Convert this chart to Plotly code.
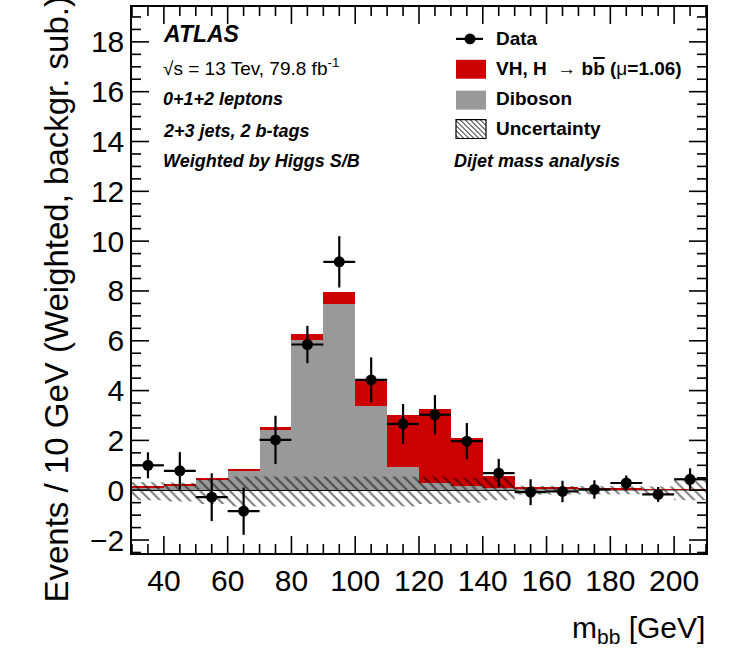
import numpy as np
import plotly.graph_objects as go

# ---------------- data ----------------
mbb_centers = [35, 45, 55, 65, 75, 85, 95, 105, 115, 125, 135, 145, 155, 165, 175, 185, 195, 205]
data_vals = [1.00, 0.78, -0.28, -0.84, 2.02, 5.85, 9.17, 4.43, 2.66, 3.03, 1.97, 0.69, -0.08, -0.05, 0.03, 0.29, -0.17, 0.44]
data_err = [0.52, 0.75, 0.96, 0.95, 0.97, 0.75, 1.03, 0.90, 0.80, 0.79, 0.73, 0.57, 0.52, 0.43, 0.37, 0.30, 0.30, 0.44]
diboson = [0.10, 0.17, 0.43, 0.80, 2.43, 6.05, 7.47, 3.37, 0.93, 0.28, 0.15, 0.10, 0.08, 0.05, 0.03, 0.02, 0.02, 0.02]
vh_signal = [0.03, 0.06, 0.06, 0.07, 0.10, 0.22, 0.49, 1.06, 2.11, 2.99, 1.95, 0.46, 0.05, 0.04, 0.03, 0.03, 0.02, 0.02]
unc_up = [0.33, 0.30, 0.45, 0.55, 0.55, 0.55, 0.55, 0.55, 0.55, 0.55, 0.50, 0.50, 0.18, 0.15, 0.15, 0.15, 0.15, 0.42]
unc_down = [0.40, 0.45, 0.55, 0.65, 0.65, 0.65, 0.65, 0.65, 0.65, 0.55, 0.50, 0.40, 0.18, 0.15, 0.15, 0.15, 0.15, 0.40]
bin_width = 10
x_range = [30, 210]
y_range = [-2.52, 19.4]
x_major, x_minor = 20, 5
y_major, y_minor = 2, 0.5

RED = "#cc0000"
GRAY = "#999999"
FONT = "Liberation Sans"

W, H = 743, 664
L, R, T, B = 132, 706, 5, 553  # plot area in pixels
PW, PH = R - L, B - T


def px(xp):
    return (xp - L) / PW


def py(yp):
    return (B - yp) / PH


fig = go.Figure()

# stacked histograms
fig.add_trace(go.Bar(x=mbb_centers, y=diboson, width=bin_width, marker=dict(color=GRAY, line=dict(width=0)),
                     name="Diboson", showlegend=False))
fig.add_trace(go.Bar(x=mbb_centers, y=vh_signal, width=bin_width, marker=dict(color=RED, line=dict(width=0)),
                     name="VH", showlegend=False))

# uncertainty band (step polygon built from bin edges)
c = np.array(mbb_centers, dtype=float)
lo_e = c - bin_width / 2
hi_e = c + bin_width / 2
xs_up = np.ravel(np.column_stack([lo_e, hi_e]))
ys_up = np.repeat(np.array(unc_up), 2)
xs_dn = xs_up[::-1]
ys_dn = np.repeat(-np.array(unc_down), 2)[::-1]
fig.add_trace(go.Scatter(x=np.concatenate([xs_up, xs_dn, xs_up[:1]]).tolist(),
                         y=np.concatenate([ys_up, ys_dn, ys_up[:1]]).tolist(),
                         mode="lines", line=dict(width=0, color="rgba(0,0,0,0)"), fill="toself",
                         fillcolor="rgba(0,0,0,0)",
                         fillpattern=dict(shape="\\", fgcolor="black", bgcolor="rgba(0,0,0,0)", size=7, solidity=0.3),
                         showlegend=False, hoverinfo="skip"))

# data points
fig.add_trace(go.Scatter(x=mbb_centers, y=data_vals, mode="markers",
                         marker=dict(color="black", size=11),
                         error_y=dict(type="data", array=data_err, color="black", thickness=2.2, width=0),
                         error_x=dict(type="constant", value=bin_width / 2, color="black", thickness=2.2, width=0),
                         showlegend=False))

shapes = []

# ---------------- ROOT-style inside ticks on all four sides (paper coords) ----------------
TICK_MAJ, TICK_MIN = 17, 9
xv = x_range[0]
while xv <= x_range[1] + 1e-9:
    ln = TICK_MAJ if abs(xv % x_major) < 1e-9 else TICK_MIN
    xp = (xv - x_range[0]) / (x_range[1] - x_range[0])
    shapes.append(dict(type="line", xref="paper", yref="paper", x0=xp, x1=xp, y0=0.0, y1=ln / PH,
                       line=dict(width=1.6, color="black"), layer="above"))
    shapes.append(dict(type="line", xref="paper", yref="paper", x0=xp, x1=xp, y0=1.0, y1=1 - ln / PH,
                       line=dict(width=1.6, color="black"), layer="above"))
    xv += x_minor
yv = -2.5
while yv <= y_range[1] + 1e-9:
    ln = TICK_MAJ if abs(yv / y_major - round(yv / y_major)) < 1e-9 else TICK_MIN
    yp = (yv - y_range[0]) / (y_range[1] - y_range[0])
    shapes.append(dict(type="line", xref="paper", yref="paper", x0=0.0, x1=ln / PW, y0=yp, y1=yp,
                       line=dict(width=1.6, color="black"), layer="above"))
    shapes.append(dict(type="line", xref="paper", yref="paper", x0=1.0, x1=1 - ln / PW, y0=yp, y1=yp,
                       line=dict(width=1.6, color="black"), layer="above"))
    yv += y_minor


# ---------------- legend decorations (paper coords) ----------------
def rect(x0, y0, x1, y1, fill, line_w=0):
    shapes.append(dict(type="rect", xref="paper", yref="paper", x0=px(x0), x1=px(x1), y0=py(y1), y1=py(y0),
                       fillcolor=fill, line=dict(width=line_w, color="black"), layer="above"))


def seg(x0, y0, x1, y1, w=2.2):
    shapes.append(dict(type="line", xref="paper", yref="paper", x0=px(x0), x1=px(x1), y0=py(y0), y1=py(y1),
                       line=dict(width=w, color="black"), layer="above"))


seg(456, 37, 483, 37)
shapes.append(dict(type="circle", xref="paper", yref="paper", x0=px(464.5), x1=px(475.5), y0=py(42.5), y1=py(31.5),
                   fillcolor="black", line=dict(width=0), layer="above"))
rect(456, 58, 486, 77, RED)
rect(456, 89, 486, 108, GRAY)
hx0, hy0, hx1, hy1 = 456, 118, 486, 137
for k in range(-(hy1 - hy0) + 3, (hx1 - hx0), 5):
    xa, ya = hx0 + k, hy0
    if xa < hx0:
        ya = hy0 + (hx0 - xa)
        xa = hx0
    xb, yb = hx0 + k + (hy1 - hy0), hy1
    if xb > hx1:
        yb = hy1 - (xb - hx1)
        xb = hx1
    seg(xa, ya, xb, yb, w=1)
rect(hx0, hy0, hx1, hy1, "rgba(0,0,0,0)", line_w=1.2)

annotations = []


def txt(text, xp, yp, size, xanchor="left", yanchor="middle"):
    annotations.append(dict(text=text, x=px(xp), y=py(yp), xref="paper", yref="paper",
                            xanchor=xanchor, yanchor=yanchor, showarrow=False,
                            font=dict(family=FONT, size=size, color="black")))


txt("<b><i>ATLAS</i></b>", 161, 32, 23)
txt("√s = 13 Tev, 79.8 fb<sup>-1</sup>", 161, 65, 19)
txt("<b><i>0+1+2 leptons</i></b>", 161, 97, 18)
txt("<b><i>2+3 jets, 2 b-tags</i></b>", 161, 129, 18)
txt("<b><i>Weighted by Higgs S/B</i></b>", 161, 160, 18)
txt("<b>Data</b>", 494, 37, 19)
txt("<b>VH, H </b> → <b>b<span style='text-decoration:overline'>b</span> (</b>μ<b>=1.06)</b>", 494, 67, 19)
txt("<b>Diboson</b>", 494, 97, 19)
txt("<b>Uncertainty</b>", 494, 127, 19)
txt("<b><i>Dijet mass analysis</i></b>", 452, 160, 18)

# axis titles
txt("m<sub>bb</sub> [GeV]", 707, 630, 30, xanchor="right")
annotations.append(dict(text="Events / 10 GeV (Weighted, backgr. sub.)", x=px(57), y=py(-8),
                        xref="paper", yref="paper", xanchor="center", yanchor="top", textangle=-90,
                        showarrow=False, font=dict(family=FONT, size=33, color="black")))

axis_common = dict(showline=True, linecolor="black", linewidth=1.5, mirror=True, ticks="",
                   showgrid=False, tickfont=dict(family=FONT, size=30, color="black"))

fig.update_layout(
    width=W, height=H,
    margin=dict(l=L, r=W - R, t=T, b=H - B),
    paper_bgcolor="white", plot_bgcolor="white",
    barmode="stack", bargap=0,
    annotations=annotations,
    shapes=shapes,
    xaxis=dict(range=x_range, tickmode="linear", tick0=0, dtick=x_major, zeroline=False, **axis_common),
    yaxis=dict(range=y_range, tickmode="linear", tick0=0, dtick=y_major,
               zeroline=True, zerolinecolor="black", zerolinewidth=1, **axis_common),
    showlegend=False,
)

fig.write_html("out.html")
